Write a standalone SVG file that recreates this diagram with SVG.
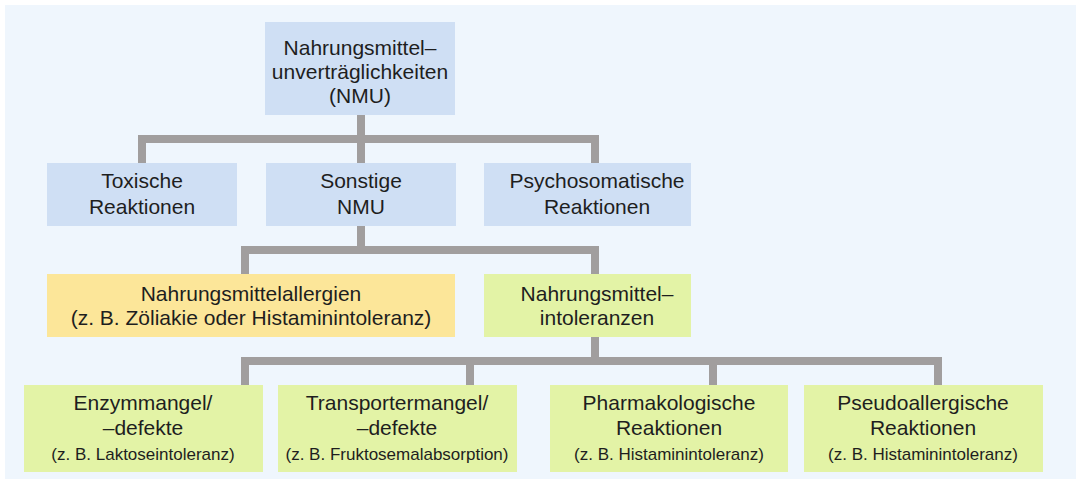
<svg xmlns="http://www.w3.org/2000/svg" width="1076" height="483" viewBox="0 0 1076 483">
<style>
.bg{fill:#eff6fd}
.blue{fill:#cfdff4}
.yellow{fill:#fce699}
.green{fill:#e3f3a6}
.conn{fill:none;stroke:#a19e9e;stroke-width:8;stroke-linejoin:miter;stroke-linecap:butt}
text{font-family:"Liberation Sans",Arial,sans-serif;fill:#1e1e1e;text-anchor:middle}
.t{font-size:21px}
.s{font-size:17px}
</style>
<rect class="bg" x="5" y="5" width="1071" height="474"/>
<g id="connectors">
<path class="conn" d="M361,115 V163"/>
<path class="conn" d="M142,163 V139 H595 V163"/>
<path class="conn" d="M361,226 V250"/>
<path class="conn" d="M245,274 V250 H595 V274"/>
<path class="conn" d="M595,337 V361"/>
<path class="conn" d="M245,385 V361 H938 V385"/>
<path class="conn" d="M470,361 V385"/>
<path class="conn" d="M713,361 V385"/>
</g>
<g id="nmu">
<rect class="blue" x="265" y="22" width="190" height="93"/>
<text class="t" x="360" y="55">Nahrungsmittel–</text>
<text class="t" x="360" y="79">unverträglichkeiten</text>
<text class="t" x="360" y="103">(NMU)</text>
</g>
<g id="toxische">
<rect class="blue" x="47" y="163" width="190" height="63"/>
<text class="t" x="142" y="188">Toxische</text>
<text class="t" x="142" y="214">Reaktionen</text>
</g>
<g id="sonstige">
<rect class="blue" x="266" y="163" width="190" height="63"/>
<text class="t" x="361" y="188">Sonstige</text>
<text class="t" x="361" y="214">NMU</text>
</g>
<g id="psychosomatische">
<rect class="blue" x="484" y="163" width="207" height="63"/>
<text class="t" x="597" y="188">Psychosomatische</text>
<text class="t" x="597" y="214">Reaktionen</text>
</g>
<g id="allergien">
<rect class="yellow" x="47" y="274" width="408" height="63"/>
<text class="t" x="251" y="301">Nahrungsmittelallergien</text>
<text class="t" x="251" y="325">(z. B. Zöliakie oder Histaminintoleranz)</text>
</g>
<g id="intoleranzen">
<rect class="green" x="484" y="274" width="207" height="63"/>
<text class="t" x="597" y="301">Nahrungsmittel–</text>
<text class="t" x="597" y="325">intoleranzen</text>
</g>
<g id="enzymmangel">
<rect class="green" x="24" y="385" width="239" height="87"/>
<text class="t" x="143" y="410">Enzymmangel/</text>
<text class="t" x="143" y="435">–defekte</text>
<text class="s" x="143" y="460">(z. B. Laktoseintoleranz)</text>
</g>
<g id="transportermangel">
<rect class="green" x="278" y="385" width="239" height="87"/>
<text class="t" x="397" y="410">Transportermangel/</text>
<text class="t" x="397" y="435">–defekte</text>
<text class="s" x="397" y="460">(z. B. Fruktosemalabsorption)</text>
</g>
<g id="pharmakologische">
<rect class="green" x="550" y="385" width="238" height="87"/>
<text class="t" x="669" y="410">Pharmakologische</text>
<text class="t" x="669" y="435">Reaktionen</text>
<text class="s" x="669" y="460">(z. B. Histaminintoleranz)</text>
</g>
<g id="pseudoallergische">
<rect class="green" x="804" y="385" width="239" height="87"/>
<text class="t" x="923" y="410">Pseudoallergische</text>
<text class="t" x="923" y="435">Reaktionen</text>
<text class="s" x="923" y="460">(z. B. Histaminintoleranz)</text>
</g>
</svg>
